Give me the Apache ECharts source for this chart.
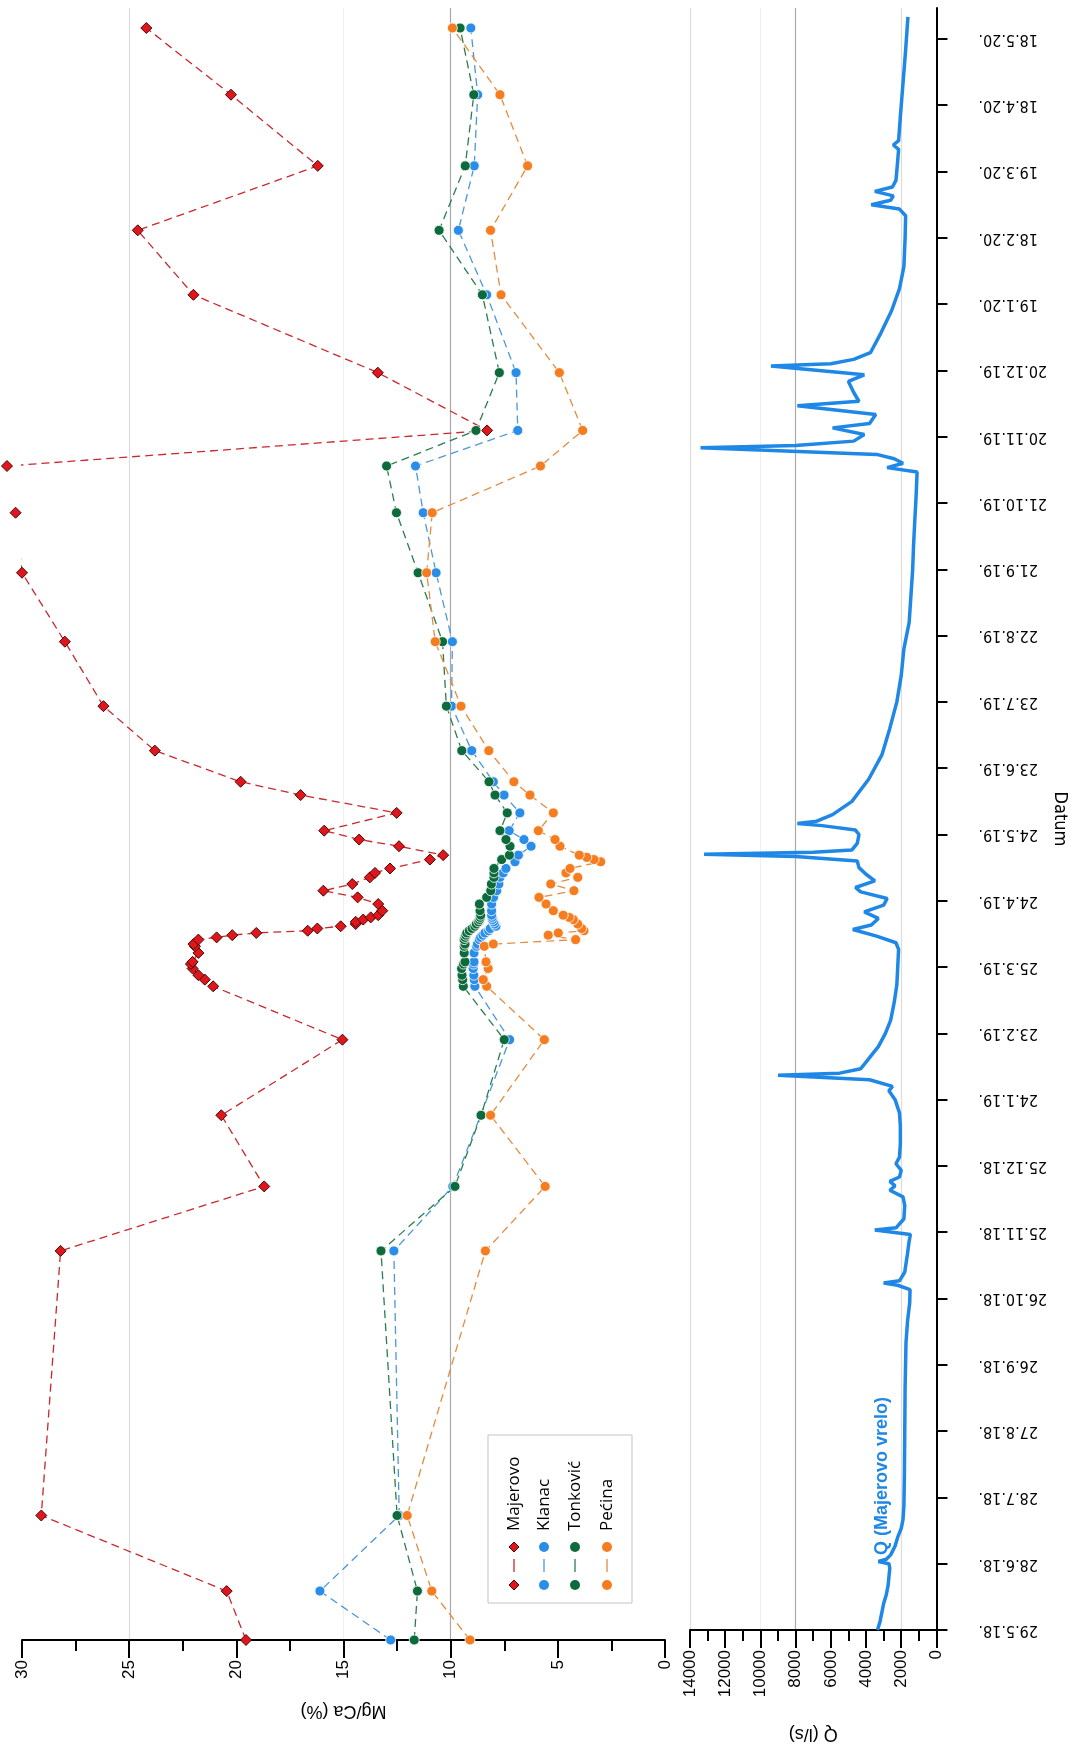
<!DOCTYPE html>
<html><head><meta charset="utf-8">
<script src="https://cdn.jsdelivr.net/npm/echarts@6.0.0/dist/echarts.min.js"></script>
<style>html,body{margin:0;padding:0;background:#fff}#c{width:1070px;height:1748px}</style>
</head><body><div id="c"></div>
<script>
// ---------- DATA ----------
const START = '2018-05-29';
const dateTickLabels = ['29.5.18.','28.6.18.','28.7.18.','27.8.18.','26.9.18.','26.10.18.','25.11.18.','25.12.18.',
  '24.1.19.','23.2.19.','25.3.19.','24.4.19.','24.5.19.','23.6.19.','23.7.19.','22.8.19.','21.9.19.','21.10.19.',
  '20.11.19.','20.12.19.','19.1.20.','18.2.20.','19.3.20.','18.4.20.','18.5.20.'];
const mgTicks = [0,5,10,15,20,25,30];
const qTicks = [0,2000,4000,6000,8000,10000,12000,14000];

const sampleDates = ['2018-05-29','2018-06-20','2018-07-24','2018-11-20','2018-12-19','2019-01-20','2019-02-23',
  '2019-03-19','2019-03-22','2019-03-24','2019-03-27','2019-03-29','2019-03-30','2019-04-03','2019-04-06','2019-04-07',
  '2019-04-09','2019-04-10','2019-04-11','2019-04-12','2019-04-13','2019-04-14','2019-04-15','2019-04-16','2019-04-17',
  '2019-04-18','2019-04-19','2019-04-20','2019-04-22','2019-04-25','2019-04-28','2019-05-01','2019-05-04','2019-05-07',
  '2019-05-09','2019-05-11','2019-05-14','2019-05-15','2019-05-16','2019-05-17','2019-05-21','2019-05-24','2019-05-28',
  '2019-06-05','2019-06-13','2019-06-19','2019-07-03','2019-07-23','2019-08-21','2019-09-21','2019-10-18','2019-11-08',
  '2019-11-24','2019-12-20','2020-01-24','2020-02-22','2020-03-22','2020-04-23','2020-05-23'];

const majerovo = [19.55,20.45,29.1,28.2,18.7,20.7,15.05,
  21.08,21.47,21.77,22.04,22.12,22.04,21.77,21.93,22.0,
  21.77,20.92,20.19,19.07,16.67,16.22,15.13,14.43,14.43,
  14.08,13.73,13.38,13.19,13.38,14.34,15.94,14.59,13.77,
  13.53,12.83,null,10.97,null,10.35,12.41,14.27,15.9,
  12.52,17.0,19.8,23.8,26.2,28.0,30.0,30.3,30.7,
  8.3,13.4,22.0,24.6,16.2,20.25,24.2];
const klanac = [12.8,16.1,12.4,12.65,9.9,8.6,7.25,
  8.87,8.9,8.92,8.95,8.93,8.91,8.91,8.79,8.75,
  8.66,8.6,8.5,8.4,8.23,8.15,7.89,7.95,8.0,
  8.05,8.07,8.09,8.09,8.09,8.0,7.85,7.75,7.7,
  7.55,7.42,7.0,null,null,6.84,6.25,6.58,7.27,
  6.77,7.51,8.01,9.02,9.96,9.92,10.68,11.28,11.64,
  6.87,6.95,8.32,9.64,8.9,8.74,9.06];
const tonkovic = [11.7,11.55,12.5,13.25,9.8,8.58,7.5,
  9.41,9.44,9.47,9.49,9.4,9.33,9.37,9.37,9.33,
  9.37,9.33,9.29,9.25,9.13,9.0,8.87,8.8,8.7,
  8.65,8.62,8.6,8.63,8.66,8.32,8.13,8.1,7.98,
  7.98,7.98,null,7.62,null,7.26,7.23,7.42,7.7,
  7.36,7.93,8.21,9.48,10.2,10.38,11.52,12.53,12.99,
  8.82,7.73,8.52,10.54,9.32,8.92,9.56];
const pecina = [9.1,10.88,12.03,8.38,5.59,8.14,5.63,
  8.32,8.48,null,8.25,null,8.35,null,8.43,8.01,
  4.17,null,5.45,4.98,3.78,3.89,null,4.07,null,
  4.28,4.47,4.75,5.21,5.55,5.88,4.25,5.33,4.07,
  4.62,4.43,3.0,3.31,3.65,4.0,4.9,5.13,5.91,
  5.21,6.3,7.05,8.22,9.52,10.72,11.12,10.86,5.81,
  3.84,4.93,7.65,8.14,6.41,7.7,9.92];

// discharge Q (l/s) of Majerovo vrelo, day = days since 29.5.2018
const qDay = [0,4,8,12,16,20,24,28,30,31,32,34,38,42,46,50,56,70,90,110,130,140,148,154,156,157,158,162,170,176,179,181,182,186,
  192,196,199,201,203,205,208,211,214,220,228,234,240,244,246,249,251,252,254,257,260,264,270,276,284,292,300,308,311,314,317,
  319,322,325,328,331,334,336,339,342,345,348,350,351,352,353,356,360,362,364,365,366,369,375,385,396,408,420,432,444,456,468,
  480,491,502,514,524,526,528,530,532,535,536,538,541,544,546,550,554,556,560,565,568,572,573,575,578,587,597,607,617,630,640,
  643,645,647,649,651,653,656,665,670,672,674,685,700,715,730];
const qValue = [3350,3200,3100,3000,2850,2750,2700,2650,2700,3300,2850,2600,2350,2200,2000,1900,1850,1820,1800,1780,1730,1640,1520,1500,2200,3000,2100,1800,1650,1550,1480,3500,2300,1850,
  1800,1900,2650,2350,2650,2100,2000,2300,2100,2050,2050,2100,2350,2700,2500,3800,9000,5500,4300,4000,3700,3300,2900,2600,2400,2250,2200,2150,2300,3400,4750,
  3700,3300,4100,3000,2800,4300,4600,3500,4000,4400,4500,8000,13200,7000,4800,4500,4400,4600,6500,7900,6800,5900,4800,3850,3100,2650,2250,2000,1850,1550,1450,
  1350,1300,1230,1150,1100,2800,1900,2400,3400,13400,8000,4700,4100,5900,3800,3450,7900,4400,4700,5000,4100,9400,6000,4700,3750,3150,2550,2100,1850,1780,1750,
  2100,3700,2600,2450,3500,2500,2300,2200,2150,2450,2150,2050,1900,1750,1620];

// ---------- BUILD ----------
const DAYMS = 86400000, t0 = Date.parse(START);
const toDay = s => Math.round((Date.parse(s) - t0) / DAYMS);
const sampleDays = sampleDates.map(toDay);
const pts = vals => vals.map((v, i) => [v, sampleDays[i]]).filter(p => p[0] != null);
const tickDays = dateTickLabels.map((_, i) => i * 30);
const AXMAX = 734;

const C = {
  mFill:'#e0161d', mLine:'#c8282e', mBorder:'#4a0606',
  kFill:'#2a8de8', kLine:'#4b98d8',
  tFill:'#0d6a3b', tLine:'#2b7d52',
  pFill:'#f57d1f', pLine:'#e48c40',
  q:'#1f87e6'
};
const FONT = "'Liberation Sans', Arial, sans-serif";
const NARROW = "'Liberation Sans Narrow', 'DejaVu Sans Condensed', 'Liberation Sans', sans-serif";

function mgSeries(name, data, fill, line, symbol, size, border, bw) {
  return {
    name, type:'line', xAxisIndex:0, yAxisIndex:0, data: pts(data),
    symbol, symbolSize:size, showSymbol:true, clip:false, z:3,
    lineStyle:{color:line, width:1.3, type:[8,5]},
    itemStyle:{color:fill, borderColor:border, borderWidth:bw, opacity:1},
    emphasis:{disabled:true}
  };
}

const blk = {color:'#000', width:2};
const T = 'rgba(0,0,0,0)';
const option = {
  animation:false,
  backgroundColor:'#fff',
  grid:[
    {left:22, right:1070-665, top:8, bottom:1748-1640},
    {left:690, right:1070-943, top:8, bottom:1748-1640}
  ],
  xAxis:[
    {gridIndex:0, type:'value', inverse:true, min:mgTicks[0], max:mgTicks[mgTicks.length-1], interval:5, position:'bottom',
     axisLine:{show:true, onZero:false, lineStyle:blk},
     axisTick:{show:true, length:18, lineStyle:blk},
     minorTick:{show:true, splitNumber:2, length:11, lineStyle:blk},
     axisLabel:{rotate:90, margin:20, fontSize:17, color:'#000', fontFamily:FONT},
     splitLine:{show:true, lineStyle:{width:1.2, color:[T,T,'#a9a9a9','#f0f0f0',T,'#dcdcdc',T]}},
     name:'Mg/Ca (%)', nameLocation:'middle', nameGap:62, nameRotate:180,
     nameTextStyle:{fontSize:18, color:'#000', fontFamily:FONT}},
    {gridIndex:1, type:'value', inverse:true, min:qTicks[0], max:qTicks[qTicks.length-1], interval:2000, position:'bottom',
     axisLine:{show:true, onZero:false, lineStyle:blk},
     axisTick:{show:true, length:18, lineStyle:blk},
     minorTick:{show:true, splitNumber:2, length:11, lineStyle:blk},
     axisLabel:{rotate:90, margin:20, fontSize:17, color:'#000', fontFamily:FONT, formatter: v => String(v)},
     splitLine:{show:true, lineStyle:{width:1.2, color:[T,'#dcdcdc',T,T,'#a9a9a9','#efefef',T,'#dcdcdc']}},
     name:'Q (l/s)', nameLocation:'middle', nameGap:95, nameRotate:180,
     nameTextStyle:{fontSize:18, color:'#000', fontFamily:FONT}}
  ],
  yAxis:[
    {gridIndex:0, type:'value', min:0, max:AXMAX, interval:30, show:false},
    {gridIndex:1, type:'value', min:0, max:AXMAX, interval:30, position:'right',
     axisLine:{show:true, onZero:false, lineStyle:blk},
     axisTick:{show:true, length:11, customValues:tickDays, lineStyle:blk},
     axisLabel:{show:true, rotate:180, margin:42, customValues:tickDays, fontSize:16, color:'#000', fontFamily:NARROW,
       formatter: v => dateTickLabels[Math.round(v / 30)] || ''},
     splitLine:{show:false},
     name:'Datum', nameLocation:'middle', nameGap:112, nameRotate:-90,
     nameTextStyle:{fontSize:18, color:'#000', fontFamily:NARROW}}
  ],
  series:[
    mgSeries('Majerovo', majerovo, C.mFill, C.mLine, 'diamond', 11, C.mBorder, 1),
    mgSeries('Klanac', klanac, C.kFill, C.kLine, 'circle', 10, '#ffffff', 0.8),
    mgSeries('Tonković', tonkovic, C.tFill, C.tLine, 'circle', 10, '#ffffff', 0.8),
    mgSeries('Pećina', pecina, C.pFill, C.pLine, 'circle', 10, '#ffffff', 0.8),
    {name:'Q', type:'line', xAxisIndex:1, yAxisIndex:1, data: qDay.map((d, i) => [qValue[i], d]),
     showSymbol:false, symbol:'none', lineStyle:{color:C.q, width:3.5}, emphasis:{disabled:true}, z:2}
  ]
};

// legend (rotated, drawn as graphic)
const legendItems = [
  {name:'Majerovo', fill:C.mFill, line:C.mLine, sym:'diamond'},
  {name:'Klanac', fill:C.kFill, line:C.kLine, sym:'circle'},
  {name:'Tonković', fill:C.tFill, line:C.tLine, sym:'circle'},
  {name:'Pećina', fill:C.pFill, line:C.pLine, sym:'circle'}
];
const legendX = [514, 544, 575, 607];
const g = [{type:'rect', shape:{x:488, y:1435, width:144, height:168}, style:{fill:'#fff', stroke:'#c4c4c4', lineWidth:1}, z:10}];
function marker(it, cx, cy) {
  if (it.sym === 'diamond') {
    return {type:'polygon', shape:{points:[[cx, cy-5],[cx+5, cy],[cx, cy+5],[cx-5, cy]]}, style:{fill:it.fill, stroke:C.mBorder, lineWidth:1}, z:11};
  }
  return {type:'circle', shape:{cx, cy, r:5}, style:{fill:it.fill}, z:11};
}
legendItems.forEach((it, i) => {
  const cx = legendX[i];
  g.push(marker(it, cx, 1585));
  g.push(marker(it, cx, 1547));
  g.push({type:'line', shape:{x1:cx, y1:1559, x2:cx, y2:1572}, style:{stroke:it.line, lineWidth:1.3}, z:11});
  g.push({type:'text', x:cx, y:1531, rotation:Math.PI/2,
    style:{text:it.name, fill:'#000', font:"17px 'Open Sans', sans-serif", align:'left', verticalAlign:'middle'}, z:11});
});
g.push({type:'text', x:882, y:1555, rotation:Math.PI/2,
  style:{text:'Q (Majerovo vrelo)', fill:C.q, font:"bold 18px 'Liberation Sans', Arial, sans-serif", align:'left', verticalAlign:'middle'}, z:11});
option.graphic = g;

const chart = echarts.init(document.getElementById('c'), null, {renderer:'canvas'});
chart.setOption(option);
</script>
</body></html>
